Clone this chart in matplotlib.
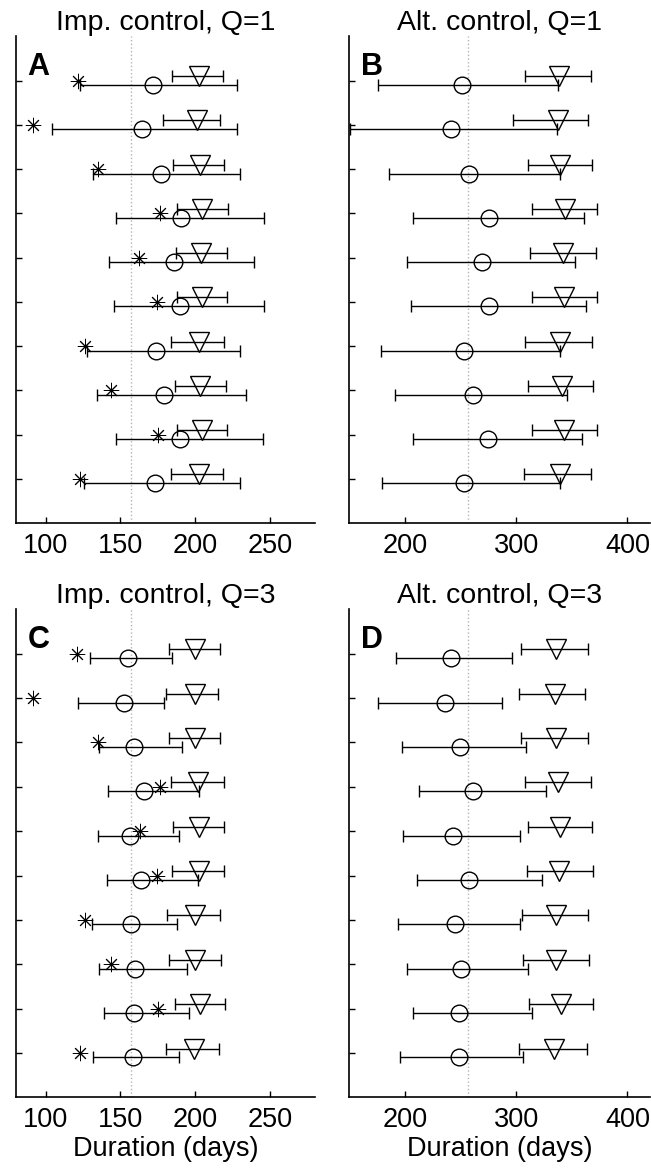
import numpy as np
import matplotlib
matplotlib.use("Agg")
import matplotlib.pyplot as plt

plt.rcParams["font.family"] = ["Liberation Sans", "DejaVu Sans"]

ROWS = np.arange(1, 11)

# Panel A: Imp. control, Q=1
a_star = [121.4, 91.7, 134.8, 176.5, 162.5, 174.3, 126.3, 143.7, 175.4, 123.0]
a_circ = [171.6, 164.5, 177.2, 190.6, 185.7, 189.9, 173.6, 179.2, 190.1, 173.4]
a_circ_lo = [123.0, 104.0, 131.5, 146.9, 142.6, 146.0, 127.9, 134.1, 146.9, 125.9]
a_circ_hi = [227.8, 227.8, 230.0, 245.7, 239.4, 245.7, 229.6, 234.1, 245.0, 229.6]
a_tri = [202.6, 201.0, 202.9, 204.4, 204.0, 204.4, 202.6, 203.3, 204.4, 202.6]
a_tri_lo = [184.3, 178.3, 185.0, 187.7, 187.0, 187.7, 184.1, 186.3, 187.7, 183.9]
a_tri_hi = [218.5, 216.7, 218.9, 221.8, 221.2, 221.2, 218.9, 220.5, 221.2, 218.5]

# Panel B: Alt. control, Q=1
b_circ = [251.3, 241.0, 257.6, 276.0, 269.7, 275.7, 253.4, 261.2, 275.1, 253.1]
b_circ_lo = [175.6, 150.5, 185.5, 207.5, 201.5, 205.7, 178.9, 191.3, 207.5, 179.5]
b_circ_hi = [338.0, 336.6, 339.7, 360.8, 352.6, 362.3, 339.0, 345.7, 358.7, 339.7]
b_tri = [338.8, 337.3, 339.7, 343.6, 342.0, 343.3, 339.0, 340.9, 343.0, 339.7]
b_tri_lo = [307.7, 297.4, 310.7, 314.3, 312.8, 314.0, 307.7, 311.0, 314.3, 307.4]
b_tri_hi = [367.4, 364.4, 368.3, 372.9, 371.3, 372.2, 368.3, 369.2, 372.2, 367.4]

# Panel C: Imp. control, Q=3
c_star = [121.1, 91.8, 134.7, 176.2, 162.9, 174.4, 126.2, 143.6, 175.1, 122.9]
c_circ = [155.2, 152.3, 159.1, 165.6, 156.7, 163.6, 156.9, 159.6, 159.1, 158.4]
c_circ_lo = [130.0, 121.8, 135.6, 141.8, 134.7, 140.7, 130.7, 135.6, 138.9, 131.8]
c_circ_hi = [184.5, 179.1, 191.3, 202.4, 189.1, 202.0, 188.0, 194.4, 195.8, 189.1]
c_tri = [200.0, 199.6, 200.0, 201.8, 202.2, 202.2, 199.6, 199.6, 202.9, 199.1]
c_tri_lo = [182.3, 180.3, 182.3, 183.6, 185.1, 184.4, 181.3, 182.4, 186.2, 180.7]
c_tri_hi = [216.8, 215.1, 216.8, 218.9, 218.9, 218.9, 216.7, 217.3, 220.0, 215.6]

# Panel D: Alt. control, Q=3
d_circ = [241.6, 235.9, 249.5, 261.5, 243.1, 257.3, 244.6, 250.7, 248.9, 248.9]
d_circ_lo = [191.9, 175.9, 197.6, 213.0, 197.9, 210.6, 194.0, 201.5, 207.5, 195.5]
d_circ_hi = [296.5, 287.2, 309.2, 326.4, 303.8, 323.1, 303.5, 311.0, 314.6, 305.9]
d_tri = [335.7, 334.5, 335.4, 337.6, 339.7, 338.2, 335.4, 335.4, 340.3, 333.6]
d_tri_lo = [304.7, 302.6, 304.7, 308.3, 311.0, 310.1, 305.6, 306.2, 311.6, 302.9]
d_tri_hi = [364.4, 361.7, 364.4, 367.4, 368.3, 368.9, 364.4, 365.3, 369.2, 363.2]

IMP_REF = 157
ALT_REF = 257

FS = 19.5


def errbar(ax, y, x, lo, hi, marker, ms):
    x = np.asarray(x)
    xerr = [x - np.asarray(lo), np.asarray(hi) - x]
    ax.errorbar(x, y, xerr=xerr, fmt=marker, color="black", ms=ms,
                mfc="none", mec="black", mew=1.0, elinewidth=1.0,
                capsize=4, capthick=1.0, zorder=3)


def draw_panel(ax, title, letter, ref, xlim, xticks, circ, circ_lo, circ_hi,
               tri, tri_lo, tri_hi, star=None, xlabel=False):
    ax.axvline(ref, color="#b5b5b5", linestyle=":", linewidth=1.0, zorder=1)

    # circle sits a little below the row, triangle a little above
    errbar(ax, ROWS + 0.1, circ, circ_lo, circ_hi, "o", 12)
    errbar(ax, ROWS - 0.1, tri, tri_lo, tri_hi, "v", 14)
    if star is not None:
        ax.plot(star, ROWS, linestyle="none", marker=(8, 2, 0), ms=11,
                color="black", mew=0.7, zorder=4)

    ax.set_xlim(*xlim)
    ax.set_ylim(11, 0)
    ax.set_xticks(xticks)
    ax.set_yticks(ROWS)
    ax.set_yticklabels([])
    ax.tick_params(direction="in", length=4, width=1.0, labelsize=FS)
    ax.tick_params(axis="x", pad=7)
    ax.spines[["top", "right"]].set_visible(False)
    for s in ("left", "bottom"):
        ax.spines[s].set_linewidth(1.2)

    ax.set_title(title, fontsize=20.5, pad=4)
    ax.text(0.04, 0.967, letter, transform=ax.transAxes, fontsize=22,
            fontweight="bold", va="top", ha="left")
    if xlabel:
        ax.set_xlabel("Duration (days)", fontsize=FS, labelpad=2)


fig = plt.figure(figsize=(6.51, 11.73), dpi=100)
ax_a = fig.add_axes([0.024, 0.554, 0.460, 0.415])
ax_b = fig.add_axes([0.5366, 0.554, 0.4614, 0.415])
ax_c = fig.add_axes([0.024, 0.0645, 0.460, 0.416])
ax_d = fig.add_axes([0.5366, 0.0645, 0.4614, 0.416])

draw_panel(ax_a, "Imp. control, Q=1", "A", IMP_REF, (80, 280), [100, 150, 200, 250],
           a_circ, a_circ_lo, a_circ_hi, a_tri, a_tri_lo, a_tri_hi, star=a_star)
draw_panel(ax_b, "Alt. control, Q=1", "B", ALT_REF, (150, 420), [200, 300, 400],
           b_circ, b_circ_lo, b_circ_hi, b_tri, b_tri_lo, b_tri_hi)
draw_panel(ax_c, "Imp. control, Q=3", "C", IMP_REF, (80, 280), [100, 150, 200, 250],
           c_circ, c_circ_lo, c_circ_hi, c_tri, c_tri_lo, c_tri_hi, star=c_star,
           xlabel=True)
draw_panel(ax_d, "Alt. control, Q=3", "D", ALT_REF, (150, 420), [200, 300, 400],
           d_circ, d_circ_lo, d_circ_hi, d_tri, d_tri_lo, d_tri_hi, xlabel=True)

fig.savefig("out.png", dpi=100)
